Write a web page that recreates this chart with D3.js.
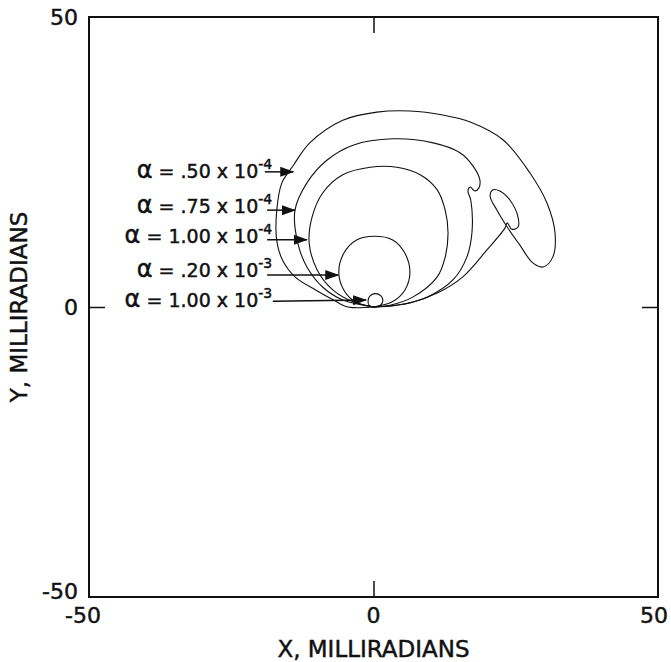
<!DOCTYPE html>
<html>
<head>
<meta charset="utf-8">
<script src="https://cdn.jsdelivr.net/npm/d3@7"></script>
<style>
	body { margin: 0; background: #fff; }
	text { font-family: "DejaVu Sans", sans-serif; fill: #111; stroke: #111; stroke-width: 0.45px; }
</style>
</head>
<body>
<div id="chart"></div>
<script>

// traces, [x, y] in milliradians
const alpha050e4 = [[0,0],[-4.5,0],[-7.0,1.2],[-10.1,2.9],[-13.8,5.2],[-16.0,8.1],[-17.0,11.4],[-17.0,16.7],[-16.1,21.4],[-14.1,24.4],
	[-11.2,28.3],[-5.4,32.2],[0.6,33.6],[6.4,33.8],[12.2,33.1],[17.0,31.9],[22.8,28.8],[27.5,23.1],[30.5,17.9],[31.9,12.8],
	[31.5,8.6],[29.8,6.9],[28.0,7.6],[25.7,10.7],[23.5,13.8],[21.7,16.7],[20.5,19.1],[21.0,20.2],[22.2,20.0],[24.0,18.4],
	[25.4,15.5],[25.4,13.8],[24.3,13.4],[23.5,14.5],[23.1,13.6],[19.9,9.8],[15.7,5.2],[11.2,2.4],[6.4,0.7],[0,0]];
const alpha075e4 = [[0,0],[-5.4,1.2],[-8.9,3.4],[-11.7,6.9],[-13.3,11.0],[-13.8,16.7],[-11.7,21.4],[-8.2,25.3],[-3.6,27.9],
	[3.4,29.0],[10.5,28.3],[15.2,26.6],[17.5,24.3],[18.7,21.9],[18.5,20.5],[17.8,20.0],[17.0,20.7],[16.6,20.0],[17.1,18.4],
	[17.3,12.8],[16.4,8.6],[14.0,4.7],[9.4,1.7],[4.1,0.3],[0,0]];
const alpha100e4 = [[0,0],[-3.6,0.9],[-7.1,2.9],[-9.9,6.4],[-11.3,11.0],[-10.8,15.5],[-8.9,19.7],[-5.4,22.8],[-0.6,24.1],
	[4.1,24.1],[8.2,22.8],[11.2,20.2],[12.6,16.7],[13.1,12.8],[12.6,8.6],[11.2,5.2],[6.9,1.7],[2.9,0.3],[0,0]];
const alpha020e3 = [[0,0],[-3.2,0.9],[-5.2,2.9],[-6.1,6.0],[-5.2,9.3],[-2.9,11.6],[0.1,12.2],[3.3,11.6],[5.5,9.3],
	[6.4,6.0],[5.5,2.9],[3.3,0.9],[0,0]];
const alpha100e3 = [[0,0],[-0.8,0.3],[-0.95,1.1],[-0.6,1.9],[0.35,2.3],[1.3,1.9],[1.65,1.1],[1.2,0.3],[0,0]];

const seriesNames = ["a050e4","a075e4","a100e4","a020e3","a100e3"];
const seriesData = [alpha050e4, alpha075e4, alpha100e4, alpha020e3, alpha100e3];

// labels: mantissa, exponent, label baseline y, arrow tail and tip
const labelMantissa = [".50", ".75", "1.00", ".20", "1.00"];
const labelExponent = ["-4", "-4", "-4", "-3", "-3"];
const labelBaseY = [22.2, 16.2, 11.0, 5.2, 0.0];
const arrowTail = [[-19.1,23.3],[-18.7,16.7],[-18.7,11.6],[-18.7,5.5],[-17.7,1.0]];
const arrowTip = [[-14.1,23.3],[-13.8,16.7],[-11.7,11.6],[-6.2,5.5],[-1.3,1.2]];
const labelEndX = -17.8;

const xTickValues = [-50, 0, 50];
const yTickValues = [-50, 0, 50];
const xTitle = "X, MILLIRADIANS";
const yTitle = "Y, MILLIRADIANS";

const W = 671, H = 662;
const mLeft = 89, mRight = 658, mTop = 17, mBottom = 597;

const x = d3.scaleLinear().domain([-50, 50]).range([mLeft, mRight]);
const y = d3.scaleLinear().domain([-50, 50]).range([mBottom, mTop]);

const svg = d3.select("#chart").append("svg")
	.attr("width", W)
	.attr("height", H);

svg.append("defs").append("marker")
	.attr("id", "head")
	.attr("markerUnits", "userSpaceOnUse")
	.attr("markerWidth", 14)
	.attr("markerHeight", 12)
	.attr("viewBox", "0 -6 14 12")
	.attr("refX", 13)
	.attr("refY", 0)
	.attr("orient", "auto")
	.append("path")
	.attr("d", "M0,-5L14,0L0,5Z")
	.attr("fill", "#111");

// frame
svg.append("rect")
	.attr("x", mLeft).attr("y", mTop)
	.attr("width", mRight - mLeft).attr("height", mBottom - mTop)
	.attr("fill", "none")
	.attr("stroke", "#111")
	.attr("stroke-width", 2);

// inward ticks at zero
const tickLen = 16;
const axes = svg.append("g").attr("class", "axes");
axes.append("g")
	.attr("transform", `translate(0,${mBottom})`)
	.call(d3.axisBottom(x).tickValues(xTickValues.filter(d => d === 0)).tickSize(-tickLen).tickFormat(""));
axes.append("g")
	.attr("transform", `translate(0,${mTop})`)
	.call(d3.axisTop(x).tickValues(xTickValues.filter(d => d === 0)).tickSize(-tickLen).tickFormat(""));
axes.append("g")
	.attr("transform", `translate(${mLeft},0)`)
	.call(d3.axisLeft(y).tickValues(yTickValues.filter(d => d === 0)).tickSize(-tickLen).tickFormat(""));
axes.append("g")
	.attr("transform", `translate(${mRight},0)`)
	.call(d3.axisRight(y).tickValues(yTickValues.filter(d => d === 0)).tickSize(-tickLen).tickFormat(""));
axes.selectAll(".domain").remove();
axes.selectAll(".tick line").attr("stroke", "#111").attr("stroke-width", 1.5);

// tick labels
svg.append("g").selectAll("text")
	.data(xTickValues)
	.join("text")
	.attr("x", d => x(d) + (d === -50 ? -6 : d === 50 ? -4 : 0))
	.attr("y", mBottom + 26)
	.attr("text-anchor", "middle")
	.style("font-size", "22px")
	.text(d => d);

svg.append("g").selectAll("text")
	.data(yTickValues)
	.join("text")
	.attr("x", mLeft - 11)
	.attr("y", d => y(d) + (d === -50 ? -6 : 0))
	.attr("dy", "0.36em")
	.attr("text-anchor", "end")
	.style("font-size", "22px")
	.text(d => d);

// axis titles
svg.append("text")
	.attr("x", (mLeft + mRight) / 2)
	.attr("y", 657)
	.attr("text-anchor", "middle")
	.style("font-size", "23px")
	.text(xTitle);

svg.append("text")
	.attr("transform", `translate(27,${y(0)}) rotate(-90)`)
	.attr("text-anchor", "middle")
	.style("font-size", "23px")
	.text(yTitle);

// traces
const line = d3.line()
	.x(d => x(d[0]))
	.y(d => y(d[1]))
	.curve(d3.curveCatmullRom.alpha(0.5));

svg.append("g").selectAll("path")
	.data(seriesData)
	.join("path")
	.attr("class", (d, i) => "trace " + seriesNames[i])
	.attr("d", line)
	.attr("fill", "none")
	.attr("stroke", "#111")
	.attr("stroke-width", 1.1);

// labels and arrows
const notes = svg.append("g").selectAll("g")
	.data(labelMantissa.map((m, i) => ({m, e: labelExponent[i], by: labelBaseY[i], tail: arrowTail[i], tip: arrowTip[i]})))
	.join("g");

notes.append("line")
	.attr("x1", d => x(d.tail[0]))
	.attr("y1", d => y(d.tail[1]))
	.attr("x2", d => x(d.tip[0]))
	.attr("y2", d => y(d.tip[1]))
	.attr("stroke", "#111")
	.attr("stroke-width", 1.5)
	.attr("marker-end", "url(#head)");

const lbl = notes.append("text")
	.attr("x", x(labelEndX))
	.attr("y", d => y(d.by))
	.attr("text-anchor", "end")
	.style("font-size", "19px");
lbl.append("tspan")
	.style("font-size", "24px")
	.text("α");
lbl.append("tspan")
	.text(d => " = " + d.m + " x 10");
lbl.append("tspan")
	.attr("dy", -9)
	.style("font-size", "14px")
	.text(d => d.e);

</script>
</body>
</html>
